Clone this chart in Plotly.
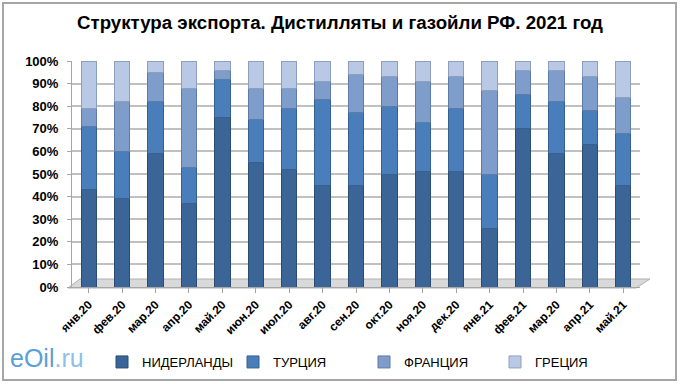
import plotly.graph_objects as go

categories = ["янв.20", "фев.20", "мар.20", "апр.20", "май.20", "июн.20", "июл.20", "авг.20",
              "сен.20", "окт.20", "ноя.20", "дек.20", "янв.21", "фев.21", "мар.20", "апр.21", "май.21"]
netherlands = [43, 39, 59, 37, 75, 55, 52, 45, 45, 50, 51, 51, 26, 70, 59, 63, 45]
turkey      = [28, 21, 23, 16, 17, 19, 27, 38, 32, 30, 22, 28, 24, 15, 23, 15, 23]
france      = [8, 22, 13, 35, 4, 14, 9, 8, 17, 13, 18, 14, 37, 11, 14, 15, 16]
greece      = [21, 18, 5, 12, 4, 12, 12, 9, 6, 7, 9, 7, 13, 4, 4, 7, 16]

series = [
    ("НИДЕРЛАНДЫ", netherlands, "#3B6597", "#2C4C72"),
    ("ТУРЦИЯ", turkey, "#4A7EBB", "#36608F"),
    ("ФРАНЦИЯ", france, "#7E9DCB", "#5E7BA6"),
    ("ГРЕЦИЯ", greece, "#B9C8E4", "#8E9FBD"),
]

FONT = "Liberation Sans, Arial"

W, H = 680, 384
L, R, T, B = 72, 40, 61, 97
PW, PH = W - L - R, H - T - B

def px(x):
    return (x - L) / PW

def py(y):
    return (H - B - y) / PH

pos = list(range(len(categories)))

fig = go.Figure()
for name, vals, col, edge in series:
    fig.add_trace(go.Bar(
        x=pos, y=[v / 100 for v in vals], name=name,
        marker=dict(color=col, line=dict(color=edge, width=1)),
        width=0.46,
    ))

fig.update_layout(
    width=W, height=H,
    barmode="stack",
    plot_bgcolor="white", paper_bgcolor="white",
    margin=dict(l=L, r=R, t=T, b=B, autoexpand=False),
    font=dict(family=FONT, size=12, color="black"),
    title=dict(text="<b>Структура экспорта. Дистилляты и газойли РФ. 2021 год</b>",
               x=0.5, xref="container", xanchor="center", y=1 - 22 / H, yanchor="middle",
               font=dict(family=FONT, size=18.7, color="black")),
    xaxis=dict(tickangle=-45, showgrid=False, automargin=False,
               tickvals=pos, ticktext=[f"<b>{c}</b>" for c in categories],
               tickfont=dict(family=FONT, size=12, color="black"),
               showline=True, linecolor="#a6a6a6", linewidth=1,
               ticks="outside", ticklen=5, tickcolor="#a6a6a6",
               range=[-0.5, 16.5]),
    yaxis=dict(range=[0, 1], tickvals=[i / 10 for i in range(11)],
               ticktext=[f"<b>{i * 10}%</b>" for i in range(11)], automargin=False,
               showgrid=True, gridcolor="#c0c0c0", gridwidth=1.5,
               showline=True, linecolor="#a6a6a6", linewidth=1,
               ticks="outside", ticklen=4, tickcolor="#a6a6a6",
               ticklabelstandoff=6,
               tickfont=dict(family=FONT, size=13, color="black"), zeroline=False),
    legend=dict(orientation="h", x=px(102), xanchor="left", y=py(362), yanchor="middle",
                entrywidth=86, entrywidthmode="pixels", traceorder="normal",
                font=dict(family=FONT, size=13, color="black"), itemwidth=30),
    bargap=0.5,
)

# chart border
fig.add_shape(type="rect", xref="paper", yref="paper",
              x0=px(3), x1=px(676), y0=py(380), y1=py(3),
              line=dict(color="#a6a6a6", width=2), fillcolor="rgba(0,0,0,0)", layer="below")

# floor
fig.add_shape(type="path", xref="paper", yref="paper",
              path=f"M {px(68)},{py(288)} L {px(636)},{py(288)} L {px(650)},{py(279)} L {px(80)},{py(279)} Z",
              line=dict(color="#b0b0b0", width=1), fillcolor="#d9d9d9", layer="below")

# logo
fig.add_annotation(xref="paper", yref="paper", x=px(8), y=py(358), xanchor="left", yanchor="middle",
                   text="<span style='color:#5AA0D6'>eOil</span><span style='color:#8CC0E8'>.ru</span>",
                   showarrow=False, font=dict(family="Liberation Sans, Arial", size=25))

fig.write_html("out.html", config={"displayModeBar": False},
               post_script="document.body.style.margin='0';")
